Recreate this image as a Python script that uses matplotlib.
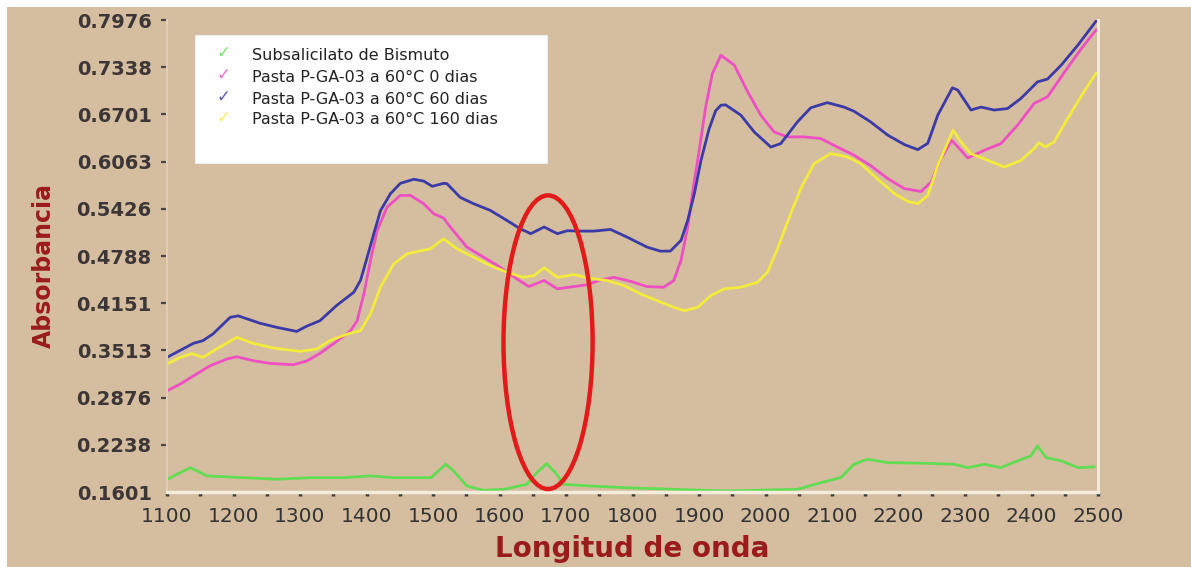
import matplotlib
matplotlib.use("Agg")
import matplotlib.pyplot as plt
from matplotlib.patches import Ellipse, Rectangle
from matplotlib.ticker import FixedLocator, MultipleLocator

# data
wl_bismuto = [1100, 1135, 1160, 1215, 1265, 1316, 1366, 1406, 1441, 1497, 1519, 1531, 1551,
              1576, 1606, 1641, 1656, 1671, 1684, 1697, 1737, 1787, 1862, 1943, 2048, 2083,
              2113, 2133, 2153, 2184, 2234, 2284, 2304, 2329, 2354, 2379, 2399, 2409, 2422,
              2445, 2470, 2494]
abs_bismuto = [0.1773, 0.193, 0.1818, 0.1795, 0.1773, 0.1795, 0.1795, 0.1818, 0.1795, 0.1795,
               0.1976, 0.1885, 0.1682, 0.1624, 0.1637, 0.1705, 0.1862, 0.1984, 0.1862, 0.1705,
               0.1682, 0.166, 0.1637, 0.1615, 0.1637, 0.1727, 0.1795, 0.1976, 0.2043, 0.1998,
               0.199, 0.1976, 0.193, 0.1976, 0.193, 0.2021, 0.2088, 0.2224, 0.2066, 0.2021,
               0.193, 0.194]

wl_0d = [1100, 1120, 1140, 1165, 1190, 1205, 1230, 1255, 1290, 1310, 1330, 1351, 1376, 1386,
         1396, 1406, 1416, 1431, 1451, 1466, 1486, 1501, 1516, 1526, 1551, 1576, 1601, 1626,
         1644, 1667, 1687, 1712, 1732, 1752, 1772, 1797, 1822, 1847, 1862, 1873, 1883, 1893,
         1898, 1910, 1920, 1933, 1953, 1973, 1993, 2013, 2033, 2058, 2083, 2108, 2133, 2158,
         2184, 2209, 2234, 2249, 2264, 2280, 2294, 2304, 2329, 2354, 2379, 2404, 2424, 2450,
         2475, 2497]
abs_0d = [0.2968, 0.3059, 0.317, 0.3307, 0.3397, 0.3428, 0.3374, 0.3338, 0.332, 0.337, 0.3473,
          0.3608, 0.378, 0.3915, 0.4277, 0.4728, 0.513, 0.545, 0.5607, 0.5607, 0.5495, 0.536,
          0.530, 0.518, 0.4908, 0.4773, 0.4637, 0.448, 0.4376, 0.4457, 0.4345, 0.4376, 0.440,
          0.4466, 0.450, 0.4447, 0.4376, 0.4367, 0.4457, 0.473, 0.518, 0.581, 0.608, 0.68,
          0.725, 0.750, 0.7367, 0.701, 0.669, 0.6464, 0.6397, 0.6397, 0.6375, 0.626, 0.615,
          0.601, 0.5833, 0.5698, 0.566, 0.5788, 0.6104, 0.635, 0.6216, 0.6113, 0.6216, 0.6307,
          0.6555, 0.685, 0.6938, 0.7276, 0.759, 0.784]

wl_60d = [1100, 1140, 1154, 1169, 1195, 1207, 1240, 1265, 1295, 1310, 1330, 1355, 1381, 1391,
          1401, 1411, 1421, 1436, 1451, 1471, 1486, 1499, 1516, 1521, 1541, 1561, 1586, 1611,
          1631, 1647, 1667, 1687, 1702, 1722, 1742, 1767, 1792, 1822, 1842, 1857, 1873, 1883,
          1893, 1903, 1915, 1925, 1933, 1940, 1963, 1983, 2008, 2023, 2048, 2068, 2093, 2118,
          2133, 2158, 2184, 2209, 2229, 2244, 2259, 2281, 2289, 2309, 2324, 2344, 2364, 2384,
          2409, 2424, 2445, 2470, 2497]
abs_60d = [0.342, 0.361, 0.3645, 0.3735, 0.396, 0.398, 0.388, 0.3825, 0.377, 0.384, 0.3915,
           0.412, 0.430, 0.446, 0.477, 0.509, 0.540, 0.563, 0.577, 0.5825, 0.580, 0.573, 0.577,
           0.5765, 0.558, 0.5495, 0.5405, 0.527, 0.5157, 0.509, 0.518, 0.509, 0.513, 0.5125,
           0.5125, 0.5147, 0.5043, 0.4908, 0.4854, 0.4855, 0.500, 0.527, 0.563, 0.608, 0.650,
           0.675, 0.6825, 0.683, 0.669, 0.6464, 0.626, 0.6307, 0.660, 0.679, 0.686, 0.680,
           0.6744, 0.660, 0.642, 0.6293, 0.6225, 0.631, 0.669, 0.706, 0.703, 0.676, 0.680,
           0.676, 0.678, 0.6916, 0.714, 0.7178, 0.737, 0.764, 0.796]

wl_160d = [1100, 1120, 1137, 1154, 1174, 1205, 1230, 1260, 1300, 1325, 1345, 1371, 1391, 1406,
           1421, 1441, 1461, 1496, 1516, 1536, 1561, 1586, 1611, 1636, 1652, 1667, 1687, 1712,
           1732, 1762, 1787, 1812, 1837, 1862, 1878, 1898, 1918, 1938, 1963, 1988, 2003, 2018,
           2033, 2053, 2073, 2098, 2123, 2143, 2168, 2194, 2214, 2229, 2244, 2259, 2282, 2294,
           2309, 2329, 2359, 2384, 2404, 2411, 2421, 2434, 2454, 2479, 2497]
abs_160d = [0.333, 0.342, 0.347, 0.342, 0.353, 0.369, 0.3608, 0.3546, 0.350, 0.3532, 0.3645,
            0.3735, 0.378, 0.4006, 0.4367, 0.4683, 0.4818, 0.4886, 0.502, 0.4886, 0.4773, 0.466,
            0.457, 0.450, 0.4525, 0.463, 0.450, 0.4538, 0.4494, 0.4457, 0.439, 0.4277, 0.4186,
            0.4096, 0.405, 0.4096, 0.4254, 0.4345, 0.4367, 0.4434, 0.457, 0.4886, 0.5246,
            0.5698, 0.6036, 0.6172, 0.6126, 0.6036, 0.5833, 0.563, 0.5526, 0.5495, 0.5607,
            0.601, 0.6487, 0.6329, 0.617, 0.610, 0.599, 0.608, 0.624, 0.632, 0.626, 0.633,
            0.664, 0.701, 0.7255]

series_names = ["Subsalicilato de Bismuto",
                "Pasta P-GA-03 a 60°C 0 dias",
                "Pasta P-GA-03 a 60°C 60 dias",
                "Pasta P-GA-03 a 60°C 160 dias"]
series_colors = ["#62dc52", "#ee4fc2", "#3b3aa6", "#f3ec3c"]

y_ticks = [0.1601, 0.2238, 0.2876, 0.3513, 0.4151, 0.4788, 0.5426, 0.6063, 0.6701, 0.7338, 0.7976]
y_tick_labels = ["0.1601", "0.2238", "0.2876", "0.3513", "0.4151", "0.4788",
                 "0.5426", "0.6063", "0.6701", "0.7338", "0.7976"]

# circled region
ell_center = (1673, 0.3624)
ell_width = 134
ell_height = 0.3966

tan = "#d5bda0"
W, H = 1191, 567
fig = plt.figure(figsize=(W / 100, H / 100), dpi=100)
fig.patch.set_facecolor("white")
fig.patches.append(Rectangle((7 / W, 0), 1, (H - 7) / H, transform=fig.transFigure,
                             facecolor=tan, edgecolor="none", zorder=-10))

ax = fig.add_axes([167 / W, 75 / H, 931 / W, 472 / H])
ax.set_facecolor(tan)

data = [(wl_bismuto, abs_bismuto), (wl_0d, abs_0d), (wl_60d, abs_60d), (wl_160d, abs_160d)]
for (x, y), c in zip(data, series_colors):
    ax.plot(x, y, color=c, lw=2.0, solid_joinstyle="round")

ax.add_patch(Ellipse(ell_center, ell_width, ell_height, fill=False,
                     edgecolor="#e31a1a", lw=3.2, zorder=5))

ax.set_xlim(1100, 2500)
ax.set_ylim(y_ticks[0], y_ticks[-1])
ax.xaxis.set_major_locator(MultipleLocator(100))
ax.xaxis.set_minor_locator(MultipleLocator(50))
ax.yaxis.set_major_locator(FixedLocator(y_ticks))
ax.set_yticklabels(y_tick_labels)

ax.tick_params(axis="x", which="both", direction="out", length=3, width=2.5,
               color="#3a3a3a", pad=8, labelsize=14.5, labelcolor="#333333")
ax.tick_params(axis="y", direction="out", length=4, width=1.6, color="#4a4444",
               pad=7, labelsize=14, labelcolor="#3d3636")
for lab in ax.get_yticklabels():
    lab.set_fontweight("bold")
ax.yaxis.get_major_ticks()[0].tick1line.set_visible(False)

ax.spines["top"].set_visible(False)
ax.spines["bottom"].set_color("#f5eddb")
ax.spines["bottom"].set_linewidth(2.5)
ax.spines["right"].set_color("#f5eddb")
ax.spines["right"].set_linewidth(2.0)
ax.spines["left"].set_color("#dfcdb4")
ax.spines["left"].set_linewidth(1.5)

ax.set_xlabel("Longitud de onda", fontsize=20, fontweight="bold", color="#9a1b1b")
ax.xaxis.set_label_coords(0.5, -0.092)
ax.set_ylabel("Absorbancia", fontsize=17, fontweight="bold", color="#9a1b1b")
ax.yaxis.set_label_coords(-0.119, 0.48)

# legend box drawn by hand to match the original layout
fig.patches.append(Rectangle((195 / W, (H - 163) / H), 352 / W, 128 / H,
                             transform=fig.transFigure, facecolor="white",
                             edgecolor="#eeeeee", lw=0.8, zorder=10))
row_y = [55, 77, 99, 120]
for name, c, yy in zip(series_names, series_colors, row_y):
    fig.text(223 / W, (H - yy + 2) / H, "\u2713", color=c, fontsize=12,
             ha="center", va="center", zorder=11, alpha=0.85)
    fig.text(252 / W, (H - yy) / H, name, color="#222222", fontsize=11.5,
             ha="left", va="center", zorder=11)

fig.savefig("out.png", dpi=100, facecolor=fig.get_facecolor())
